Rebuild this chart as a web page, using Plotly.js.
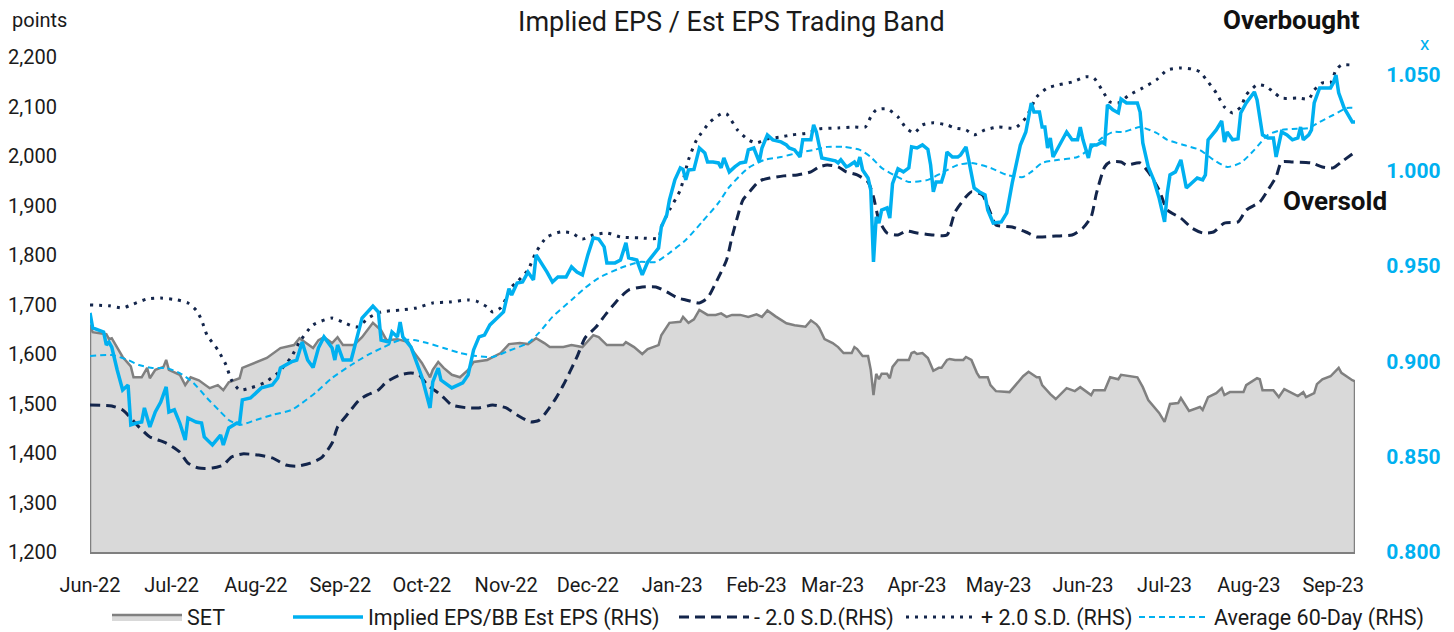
<!DOCTYPE html>
<html><head><meta charset="utf-8">
<script src="https://cdn.plot.ly/plotly-3.0.1.min.js"></script>
<style>html,body{margin:0;padding:0;background:#fff}#chart{width:1454px;height:632px}</style>
</head><body><div id="chart"></div>
<script>
const setDates = ['2022-06-01','2022-06-02','2022-06-07','2022-06-08','2022-06-09','2022-06-13','2022-06-16','2022-06-17','2022-06-20','2022-06-22','2022-06-23','2022-06-25','2022-06-28','2022-06-29','2022-06-30','2022-07-04','2022-07-06','2022-07-08','2022-07-11','2022-07-15','2022-07-18','2022-07-20','2022-07-22','2022-07-26','2022-07-27','2022-08-01','2022-08-05','2022-08-10','2022-08-15','2022-08-17','2022-08-20','2022-08-22','2022-08-24','2022-08-26','2022-08-29','2022-08-31','2022-09-02','2022-09-06','2022-09-09','2022-09-13','2022-09-16','2022-09-18','2022-09-22','2022-09-26','2022-09-28','2022-10-01','2022-10-04','2022-10-05','2022-10-07','2022-10-09','2022-10-12','2022-10-15','2022-10-18','2022-10-20','2022-10-25','2022-10-30','2022-11-02','2022-11-06','2022-11-09','2022-11-12','2022-11-15','2022-11-17','2022-11-22','2022-11-25','2022-11-29','2022-12-03','2022-12-05','2022-12-08','2022-12-14','2022-12-15','2022-12-18','2022-12-21','2022-12-23','2022-12-27','2022-12-28','2022-12-31','2023-01-04','2023-01-05','2023-01-07','2023-01-09','2023-01-11','2023-01-14','2023-01-17','2023-01-19','2023-01-21','2023-01-23','2023-01-26','2023-01-29','2023-02-01','2023-02-03','2023-02-05','2023-02-08','2023-02-12','2023-02-15','2023-02-19','2023-02-21','2023-02-23','2023-02-24','2023-02-26','2023-03-01','2023-03-03','2023-03-05','2023-03-08','2023-03-09','2023-03-10','2023-03-12','2023-03-14','2023-03-15','2023-03-16','2023-03-17','2023-03-18','2023-03-19','2023-03-21','2023-03-22','2023-03-23','2023-03-25','2023-03-29','2023-03-30','2023-03-31','2023-04-01','2023-04-03','2023-04-05','2023-04-07','2023-04-09','2023-04-10','2023-04-12','2023-04-13','2023-04-15','2023-04-18','2023-04-19','2023-04-21','2023-04-23','2023-04-24','2023-04-27','2023-04-28','2023-04-30','2023-05-05','2023-05-10','2023-05-12','2023-05-15','2023-05-16','2023-05-17','2023-05-20','2023-05-22','2023-05-26','2023-05-29','2023-05-31','2023-06-04','2023-06-05','2023-06-09','2023-06-11','2023-06-14','2023-06-15','2023-06-21','2023-06-23','2023-06-25','2023-06-29','2023-07-01','2023-07-03','2023-07-06','2023-07-07','2023-07-10','2023-07-14','2023-07-15','2023-07-17','2023-07-20','2023-07-22','2023-07-23','2023-07-25','2023-07-30','2023-07-31','2023-08-04','2023-08-05','2023-08-06','2023-08-10','2023-08-12','2023-08-14','2023-08-19','2023-08-21','2023-08-22','2023-08-25','2023-08-26','2023-08-28','2023-08-31','2023-09-03','2023-09-04','2023-09-08','2023-09-09'];
const setValues = [1659,1644,1640,1630,1632,1594,1575,1553,1553,1572,1551,1568,1574,1588,1568,1558,1537,1553,1547,1531,1537,1527,1543,1551,1572,1584,1592,1612,1618,1632,1620,1612,1628,1634,1622,1634,1618,1618,1634,1663,1648,1628,1630,1624,1604,1582,1553,1568,1584,1572,1558,1553,1568,1584,1588,1602,1620,1622,1620,1632,1622,1614,1614,1618,1614,1638,1634,1618,1618,1624,1614,1600,1610,1618,1638,1663,1665,1675,1663,1670,1689,1679,1679,1682,1675,1679,1679,1675,1680,1675,1688,1676,1662,1658,1655,1668,1660,1653,1630,1622,1614,1602,1602,1614,1610,1596,1596,1568,1517,1560,1549,1560,1560,1551,1574,1588,1588,1602,1604,1600,1602,1592,1566,1572,1572,1588,1590,1588,1588,1594,1588,1562,1553,1553,1537,1525,1523,1555,1564,1553,1553,1537,1519,1509,1531,1525,1533,1517,1527,1527,1553,1549,1558,1553,1533,1507,1481,1463,1499,1501,1511,1485,1493,1487,1513,1521,1531,1517,1523,1523,1537,1551,1549,1527,1527,1513,1529,1515,1523,1513,1521,1539,1549,1555,1572,1562,1547,1545];

const epsDates = ['2022-06-01','2022-06-02','2022-06-06','2022-06-07','2022-06-08','2022-06-09','2022-06-11','2022-06-13','2022-06-15','2022-06-16','2022-06-18','2022-06-20','2022-06-21','2022-06-23','2022-06-25','2022-06-27','2022-06-29','2022-06-30','2022-07-02','2022-07-04','2022-07-06','2022-07-07','2022-07-10','2022-07-12','2022-07-13','2022-07-16','2022-07-19','2022-07-20','2022-07-22','2022-07-25','2022-07-26','2022-07-27','2022-07-30','2022-08-01','2022-08-03','2022-08-07','2022-08-09','2022-08-10','2022-08-14','2022-08-16','2022-08-18','2022-08-20','2022-08-22','2022-08-24','2022-08-26','2022-08-29','2022-08-30','2022-08-31','2022-09-02','2022-09-05','2022-09-07','2022-09-09','2022-09-13','2022-09-15','2022-09-16','2022-09-19','2022-09-20','2022-09-22','2022-09-23','2022-09-24','2022-09-27','2022-09-29','2022-10-01','2022-10-04','2022-10-05','2022-10-07','2022-10-08','2022-10-12','2022-10-16','2022-10-18','2022-10-20','2022-10-22','2022-10-24','2022-10-26','2022-10-29','2022-10-30','2022-10-31','2022-11-02','2022-11-03','2022-11-05','2022-11-07','2022-11-09','2022-11-11','2022-11-12','2022-11-14','2022-11-16','2022-11-18','2022-11-20','2022-11-23','2022-11-25','2022-11-27','2022-11-29','2022-12-01','2022-12-03','2022-12-05','2022-12-07','2022-12-08','2022-12-11','2022-12-13','2022-12-15','2022-12-16','2022-12-19','2022-12-21','2022-12-23','2022-12-27','2022-12-28','2022-12-30','2022-12-31','2023-01-02','2023-01-04','2023-01-05','2023-01-06','2023-01-07','2023-01-09','2023-01-11','2023-01-13','2023-01-14','2023-01-16','2023-01-18','2023-01-19','2023-01-20','2023-01-22','2023-01-24','2023-01-26','2023-01-28','2023-01-29','2023-01-31','2023-02-02','2023-02-03','2023-02-05','2023-02-07','2023-02-10','2023-02-12','2023-02-13','2023-02-15','2023-02-17','2023-02-18','2023-02-21','2023-02-22','2023-02-23','2023-02-25','2023-02-28','2023-03-02','2023-03-03','2023-03-04','2023-03-06','2023-03-07','2023-03-09','2023-03-10','2023-03-11','2023-03-12','2023-03-14','2023-03-15','2023-03-16','2023-03-17','2023-03-18','2023-03-19','2023-03-21','2023-03-22','2023-03-23','2023-03-25','2023-03-27','2023-03-29','2023-03-30','2023-04-01','2023-04-03','2023-04-05','2023-04-06','2023-04-07','2023-04-08','2023-04-10','2023-04-11','2023-04-12','2023-04-14','2023-04-16','2023-04-17','2023-04-19','2023-04-20','2023-04-22','2023-04-24','2023-04-26','2023-04-27','2023-04-29','2023-05-02','2023-05-04','2023-05-06','2023-05-09','2023-05-11','2023-05-13','2023-05-14','2023-05-16','2023-05-17','2023-05-18','2023-05-19','2023-05-20','2023-05-21','2023-05-24','2023-05-26','2023-05-28','2023-05-30','2023-05-31','2023-06-01','2023-06-03','2023-06-04','2023-06-06','2023-06-08','2023-06-09','2023-06-10','2023-06-12','2023-06-14','2023-06-15','2023-06-17','2023-06-21','2023-06-22','2023-06-23','2023-06-25','2023-06-27','2023-06-29','2023-07-01','2023-07-02','2023-07-03','2023-07-05','2023-07-07','2023-07-09','2023-07-11','2023-07-13','2023-07-15','2023-07-16','2023-07-17','2023-07-20','2023-07-22','2023-07-23','2023-07-24','2023-07-26','2023-07-28','2023-07-29','2023-07-31','2023-08-03','2023-08-04','2023-08-06','2023-08-08','2023-08-10','2023-08-11','2023-08-13','2023-08-15','2023-08-17','2023-08-19','2023-08-20','2023-08-21','2023-08-23','2023-08-24','2023-08-25','2023-08-27','2023-08-31','2023-09-01','2023-09-02','2023-09-03','2023-09-05','2023-09-08','2023-09-09'];
const epsValues = [0.9253,0.9174,0.9153,0.9085,0.910,0.9074,0.8954,0.8849,0.8875,0.8666,0.8676,0.8681,0.8755,0.8655,0.8734,0.8786,0.8865,0.8734,0.8745,0.8676,0.8587,0.8702,0.8681,0.8676,0.8603,0.8561,0.8613,0.8561,0.865,0.8676,0.8676,0.8797,0.8807,0.8833,0.886,0.8875,0.8912,0.8964,0.8996,0.9006,0.910,0.9006,0.8967,0.907,0.9127,0.9069,0.9006,0.9085,0.9006,0.9006,0.9111,0.9226,0.9289,0.9258,0.9111,0.910,0.9153,0.9127,0.9205,0.9127,0.9074,0.899,0.8917,0.8755,0.8891,0.8964,0.8901,0.886,0.8886,0.8928,0.9059,0.9127,0.9137,0.919,0.9232,0.9242,0.9258,0.938,0.9347,0.941,0.9415,0.9467,0.9426,0.9557,0.9515,0.9467,0.9415,0.9441,0.9441,0.9494,0.9467,0.9452,0.9557,0.9646,0.964,0.9599,0.9515,0.9515,0.953,0.962,0.9541,0.953,0.9452,0.952,0.9593,0.9703,0.9766,0.9845,0.995,1.0013,1.0005,0.995,1.0002,1.0005,1.0117,1.0091,1.0044,1.0044,1.0039,1.0013,1.0065,0.9992,1.0018,1.0039,1.0044,1.0107,1.0117,1.0044,1.0117,1.0186,1.016,1.0149,1.0133,1.0117,1.0107,1.007,1.016,1.016,1.0238,1.0201,1.0065,1.0055,1.005,1.0039,1.0055,1.0018,1.0024,1.0044,1.002,1.007,1.0002,0.996,0.9897,0.952,0.9756,0.9724,0.9792,0.9803,0.975,0.993,1.0008,0.9992,1.0013,1.0123,1.0117,1.0133,1.011,1.0028,0.9887,0.9939,0.9939,0.9986,1.0096,1.007,1.007,1.008,1.0123,1.0055,0.9908,0.9887,0.9871,0.9792,0.9724,0.973,0.9777,0.9934,1.0133,1.0201,1.0353,1.0306,1.0306,1.0227,1.0227,1.0117,1.017,1.007,1.0144,1.0201,1.016,1.016,1.0227,1.016,1.0065,1.0133,1.0133,1.0149,1.014,1.0343,1.0317,1.0301,1.0374,1.0353,1.0353,1.0306,1.0144,1.0018,0.995,0.9855,0.973,0.9882,0.9976,0.9992,1.0055,0.9908,0.9934,0.996,0.995,0.9976,1.016,1.0212,1.0259,1.0149,1.0201,1.016,1.0165,1.0301,1.0353,1.0411,1.0369,1.0186,1.017,1.017,1.007,1.0201,1.0186,1.016,1.017,1.0227,1.016,1.0186,1.0212,1.0353,1.0432,1.0432,1.0458,1.05,1.0406,1.0327,1.0254,1.0254];

const upperDates = ['2022-06-01','2022-06-08','2022-06-13','2022-06-17','2022-06-22','2022-06-27','2022-07-03','2022-07-07','2022-07-10','2022-07-12','2022-07-14','2022-07-18','2022-07-21','2022-07-23','2022-07-26','2022-07-30','2022-08-04','2022-08-09','2022-08-14','2022-08-17','2022-08-22','2022-08-29','2022-09-02','2022-09-07','2022-09-12','2022-09-16','2022-09-23','2022-09-29','2022-10-05','2022-10-11','2022-10-18','2022-10-21','2022-10-25','2022-10-27','2022-10-30','2022-11-01','2022-11-03','2022-11-05','2022-11-09','2022-11-12','2022-11-16','2022-11-21','2022-11-25','2022-11-29','2022-12-03','2022-12-08','2022-12-13','2022-12-20','2022-12-27','2022-12-28','2022-12-31','2023-01-04','2023-01-07','2023-01-10','2023-01-15','2023-01-19','2023-01-21','2023-01-25','2023-01-29','2023-02-01','2023-02-05','2023-02-10','2023-02-14','2023-02-20','2023-02-24','2023-03-03','2023-03-09','2023-03-13','2023-03-15','2023-03-17','2023-03-21','2023-03-25','2023-03-28','2023-03-31','2023-04-03','2023-04-07','2023-04-12','2023-04-15','2023-04-19','2023-04-22','2023-04-26','2023-05-01','2023-05-07','2023-05-11','2023-05-15','2023-05-19','2023-05-23','2023-05-28','2023-06-02','2023-06-05','2023-06-08','2023-06-11','2023-06-14','2023-06-18','2023-06-23','2023-06-28','2023-07-02','2023-07-07','2023-07-11','2023-07-14','2023-07-17','2023-07-20','2023-07-23','2023-07-26','2023-07-29','2023-07-31','2023-08-04','2023-08-07','2023-08-10','2023-08-13','2023-08-19','2023-08-23','2023-08-25','2023-08-28','2023-08-31','2023-09-02','2023-09-04','2023-09-08','2023-09-09'];
const upperValues = [0.9295,0.929,0.9279,0.930,0.9326,0.9331,0.9321,0.9305,0.9268,0.9216,0.9137,0.9059,0.898,0.8901,0.8849,0.886,0.8886,0.8938,0.9022,0.910,0.919,0.9226,0.9205,0.9179,0.9232,0.9258,0.9268,0.9279,0.9305,0.931,0.9321,0.9315,0.9284,0.9258,0.928,0.9331,0.9389,0.9415,0.9478,0.9572,0.9651,0.9677,0.9672,0.964,0.9661,0.9672,0.9651,0.9646,0.9646,0.9703,0.9792,0.9897,1.0055,1.016,1.0254,1.0296,1.0296,1.0212,1.016,1.0144,1.0165,1.0175,1.0186,1.0196,1.0217,1.0222,1.0227,1.0227,1.028,1.0317,1.0322,1.028,1.0222,1.0196,1.0238,1.0249,1.0238,1.0222,1.0212,1.0186,1.0212,1.0227,1.0222,1.0275,1.0385,1.0432,1.0448,1.0463,1.049,1.0484,1.0421,1.0358,1.0353,1.0395,1.0432,1.0474,1.0526,1.0537,1.0531,1.0516,1.0463,1.0406,1.0332,1.0301,1.0332,1.0395,1.0448,1.0442,1.0411,1.0379,1.0379,1.0374,1.0421,1.0458,1.0458,1.0526,1.0552,1.0552,1.0552];

const lowerDates = ['2022-06-01','2022-06-09','2022-06-13','2022-06-16','2022-06-19','2022-06-23','2022-06-26','2022-06-29','2022-07-04','2022-07-07','2022-07-11','2022-07-16','2022-07-20','2022-07-23','2022-07-27','2022-08-02','2022-08-07','2022-08-12','2022-08-16','2022-08-21','2022-08-25','2022-08-29','2022-08-31','2022-09-04','2022-09-08','2022-09-11','2022-09-15','2022-09-18','2022-09-23','2022-09-27','2022-09-30','2022-10-03','2022-10-08','2022-10-12','2022-10-18','2022-10-22','2022-10-27','2022-11-01','2022-11-05','2022-11-10','2022-11-13','2022-11-15','2022-11-19','2022-11-22','2022-11-27','2022-11-30','2022-12-04','2022-12-08','2022-12-12','2022-12-16','2022-12-21','2022-12-26','2022-12-30','2023-01-03','2023-01-06','2023-01-11','2023-01-14','2023-01-17','2023-01-21','2023-01-23','2023-01-25','2023-01-27','2023-01-30','2023-02-02','2023-02-06','2023-02-11','2023-02-16','2023-02-21','2023-02-24','2023-02-27','2023-03-03','2023-03-06','2023-03-10','2023-03-14','2023-03-16','2023-03-18','2023-03-21','2023-03-25','2023-03-28','2023-04-01','2023-04-07','2023-04-12','2023-04-15','2023-04-19','2023-04-21','2023-04-25','2023-04-28','2023-04-30','2023-05-06','2023-05-11','2023-05-15','2023-05-22','2023-05-28','2023-06-01','2023-06-04','2023-06-06','2023-06-09','2023-06-11','2023-06-15','2023-06-17','2023-06-22','2023-06-25','2023-06-29','2023-07-02','2023-07-07','2023-07-11','2023-07-15','2023-07-19','2023-07-23','2023-07-28','2023-07-31','2023-08-05','2023-08-08','2023-08-11','2023-08-13','2023-08-17','2023-08-24','2023-08-28','2023-09-01','2023-09-04','2023-09-09'];
const lowerValues = [0.877,0.8765,0.8744,0.8702,0.8655,0.8603,0.8587,0.8571,0.8524,0.8466,0.844,0.844,0.8456,0.8498,0.8514,0.8508,0.8493,0.8456,0.845,0.8466,0.8493,0.8571,0.8655,0.8728,0.8797,0.8823,0.8849,0.8891,0.8928,0.8938,0.8928,0.8875,0.8823,0.877,0.8755,0.8755,0.877,0.8755,0.8718,0.8681,0.869,0.872,0.880,0.8875,0.9022,0.9122,0.9179,0.9253,0.9321,0.9373,0.9389,0.9389,0.9363,0.9331,0.9321,0.9305,0.9331,0.941,0.953,0.9651,0.9756,0.9845,0.9897,0.9944,0.996,0.9971,0.9976,0.9992,1.0018,1.0028,1.0018,0.9992,0.9976,0.9939,0.9861,0.974,0.9672,0.9661,0.9682,0.9672,0.9661,0.9661,0.9782,0.9861,0.9887,0.9871,0.9777,0.9714,0.9703,0.9677,0.9651,0.9656,0.9661,0.9698,0.9756,0.9882,1.0018,1.0044,1.0044,1.0028,1.0039,0.9992,0.9897,0.9792,0.975,0.9698,0.9672,0.9677,0.9724,0.973,0.9792,0.9834,0.9897,0.9966,1.0044,1.0044,1.0039,1.0018,1.0013,1.0044,1.0096];

const avgDates = ['2022-06-01','2022-06-09','2022-06-15','2022-06-19','2022-06-24','2022-06-29','2022-07-04','2022-07-09','2022-07-14','2022-07-19','2022-07-22','2022-07-26','2022-08-01','2022-08-07','2022-08-14','2022-08-18','2022-08-23','2022-08-29','2022-09-05','2022-09-11','2022-09-17','2022-09-23','2022-09-28','2022-10-03','2022-10-09','2022-10-15','2022-10-21','2022-10-27','2022-11-02','2022-11-09','2022-11-13','2022-11-18','2022-11-25','2022-11-30','2022-12-05','2022-12-13','2022-12-20','2022-12-26','2022-12-31','2023-01-06','2023-01-12','2023-01-18','2023-01-22','2023-01-29','2023-02-04','2023-02-10','2023-02-16','2023-02-22','2023-02-27','2023-03-05','2023-03-11','2023-03-15','2023-03-19','2023-03-25','2023-03-29','2023-04-05','2023-04-10','2023-04-16','2023-04-21','2023-04-28','2023-05-04','2023-05-10','2023-05-13','2023-05-17','2023-05-23','2023-05-30','2023-06-04','2023-06-08','2023-06-12','2023-06-16','2023-06-22','2023-06-28','2023-07-02','2023-07-08','2023-07-14','2023-07-19','2023-07-24','2023-07-29','2023-08-03','2023-08-08','2023-08-13','2023-08-17','2023-08-23','2023-08-27','2023-09-01','2023-09-06','2023-09-09'];
const avgValues = [0.9027,0.9032,0.9006,0.898,0.8964,0.8964,0.8938,0.8886,0.8807,0.8734,0.8692,0.8666,0.8692,0.8718,0.8744,0.8781,0.8836,0.8912,0.898,0.9032,0.9074,0.9111,0.9111,0.9095,0.9069,0.9043,0.9027,0.9022,0.9055,0.9095,0.9148,0.9232,0.9321,0.9384,0.9436,0.9488,0.952,0.952,0.9567,0.9635,0.973,0.9829,0.9913,1.0013,1.0055,1.007,1.0091,1.0107,1.0123,1.0123,1.0107,1.007,1.0013,0.9965,0.9939,0.995,0.9986,1.0028,1.0039,1.0013,0.9976,0.9965,0.9992,1.0039,1.0055,1.007,1.0117,1.017,1.0201,1.0201,1.0227,1.0196,1.016,1.0133,1.0107,1.0055,1.0018,1.0039,1.0107,1.0186,1.0212,1.0217,1.0222,1.0254,1.029,1.0327,1.0327];

const leftTicks = [1200,1300,1400,1500,1600,1700,1800,1900,2000,2100,2200];
const rightTicks = [0.800,0.850,0.900,0.950,1.000,1.050];

const FONT = "Roboto, 'Open Sans', sans-serif";
const NAVY = '#13254b', CYAN = '#00b0f0', GRAY = '#808080', INK = '#1a1a1a';

const nS = setDates.length;
const traces = [
  {x: setDates, y: setValues, type: 'scatter', mode: 'lines', name: 'SET', fill: 'tozeroy',
   fillcolor: '#d9d9d9', line: {color: GRAY, width: 2.5}, legend: 'legend', yaxis: 'y'},
  {x: [setDates[0], setDates[0]], y: [leftTicks[0], setValues[0]], type: 'scatter', mode: 'lines',
   line: {color: GRAY, width: 2.5}, showlegend: false, hoverinfo: 'skip', yaxis: 'y'},
  {x: [setDates[nS-1], setDates[nS-1]], y: [leftTicks[0], setValues[nS-1]], type: 'scatter', mode: 'lines',
   line: {color: GRAY, width: 2.5}, showlegend: false, hoverinfo: 'skip', yaxis: 'y'},
  {x: avgDates, y: avgValues, type: 'scatter', mode: 'lines', name: 'Average 60-Day (RHS)', legend: 'legend5',
   line: {color: CYAN, width: 2, dash: '6px,4px', shape: 'spline', smoothing: 0.6}, yaxis: 'y2'},
  {x: lowerDates, y: lowerValues, type: 'scatter', mode: 'lines', name: '- 2.0 S.D.(RHS)', legend: 'legend3',
   line: {color: NAVY, width: 3, dash: '10px,6px', shape: 'spline', smoothing: 0.6}, yaxis: 'y2'},
  {x: upperDates, y: upperValues, type: 'scatter', mode: 'lines', name: '+ 2.0 S.D. (RHS)', legend: 'legend4',
   line: {color: NAVY, width: 3, dash: '3px,6px', shape: 'spline', smoothing: 0.6}, yaxis: 'y2'},
  {x: epsDates, y: epsValues, type: 'scatter', mode: 'lines', name: 'Implied EPS/BB Est EPS (RHS)', legend: 'legend2',
   line: {color: CYAN, width: 3.5}, yaxis: 'y2'}
];

function leg(px) {
  return {orientation: 'h', xref: 'container', yref: 'container', x: px / 1454, xanchor: 'left',
          y: 1 - 617 / 632, yanchor: 'middle', bgcolor: 'rgba(0,0,0,0)',
          font: {family: FONT, size: 21.5, color: INK}, itemwidth: 70};
}
// paper coordinate helpers for text placed around the plot (plot spans x 90..1355, y 57..552)
function px2paperX(px) { return (px - 90) / 1265; }
function px2paperY(py) { return (552 - py) / 495; }

const layout = {
  width: 1454, height: 632,
  margin: {l: 90, r: 99, t: 57, b: 80},
  paper_bgcolor: '#ffffff', plot_bgcolor: '#ffffff',
  font: {family: FONT, size: 20, color: INK},
  showlegend: true,
  title: {text: 'Implied EPS / Est EPS Trading Band', font: {family: FONT, size: 27, color: INK},
          x: 0.503, xref: 'container', y: 1 - 22 / 632, yref: 'container', yanchor: 'middle'},
  xaxis: {type: 'date', range: ['2022-06-01', '2023-09-09'], dtick: 'M1', tick0: '2022-06-01',
          tickformat: '%b-%y', showgrid: false, zeroline: false, showline: true, linecolor: '#7f7f7f', linewidth: 1.5,
          ticks: '', ticklabelstandoff: 14, tickfont: {family: FONT, size: 20, color: INK}},
  yaxis: {range: [leftTicks[0], leftTicks[leftTicks.length-1]], tickvals: leftTicks, tickformat: ',d',
          showgrid: false, zeroline: false, showline: false, ticks: 'outside', ticklen: 28, tickcolor: 'rgba(0,0,0,0)',
          tickfont: {family: FONT, size: 20, color: INK}},
  yaxis2: {overlaying: 'y', side: 'right', range: [0.8, 1.0594], tickvals: rightTicks, tickformat: '.3f',
           showgrid: false, zeroline: false, showline: false, ticks: 'outside', ticklen: 26, tickcolor: 'rgba(0,0,0,0)',
           tickfont: {family: FONT, size: 21, color: CYAN, weight: 'bold'}},
  legend: leg(107),
  legend2: leg(288),
  legend3: leg(674),
  legend4: leg(901),
  legend5: leg(1134),
  annotations: [
    {text: 'points', xref: 'paper', yref: 'paper', x: px2paperX(10), y: px2paperY(20), xanchor: 'left', yanchor: 'middle',
     showarrow: false, font: {family: FONT, size: 20, color: INK}},
    {text: 'x', xref: 'paper', yref: 'paper', x: px2paperX(1425), y: px2paperY(43), xanchor: 'center', yanchor: 'middle',
     showarrow: false, font: {family: FONT, size: 19, color: CYAN}},
    {text: '<b>Overbought</b>', xref: 'paper', yref: 'paper', x: px2paperX(1362), y: px2paperY(20), xanchor: 'right', yanchor: 'middle',
     showarrow: false, font: {family: FONT, size: 26, color: '#111111'}},
    {text: '<b>Oversold</b>', xref: 'paper', yref: 'paper', x: px2paperX(1389), y: px2paperY(201), xanchor: 'right', yanchor: 'middle',
     showarrow: false, font: {family: FONT, size: 26, color: '#111111'}}
  ]
};

Plotly.newPlot('chart', traces, layout, {displayModeBar: false, staticPlot: true});
</script>
</body></html>
